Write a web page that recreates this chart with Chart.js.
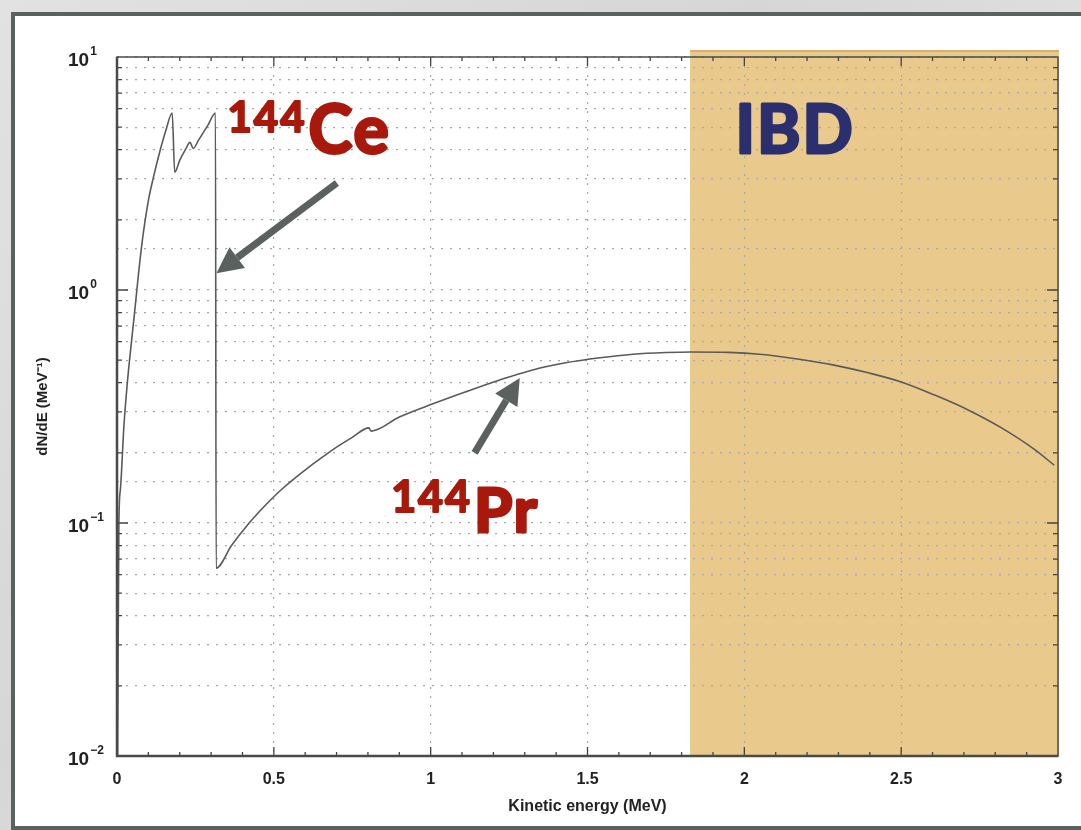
<!DOCTYPE html>
<html>
<head>
<meta charset="utf-8">
<script src="https://cdn.jsdelivr.net/npm/chart.js@4/dist/chart.umd.min.js"></script>
<style>
  html, body { margin: 0; padding: 0; }
  body {
    width: 1081px; height: 830px; overflow: hidden;
    background: linear-gradient(135deg, #e2e2e2 0%, #d6d6d6 40%, #e4e4e4 70%, #d9d9d9 100%);
    position: relative;
  }
  #panel {
    position: absolute; left: 11px; top: 12px; width: 1080px; height: 818px;
    box-sizing: border-box; background: #fff;
    border: 4px solid #5b615f;
  }
  #wrap { position: absolute; left: 0; top: 0; width: 1081px; height: 830px; }
</style>
</head>
<body>
<div id="panel"></div>
<div id="wrap"><canvas id="spectrum"></canvas></div>
<script>
// Ce-144 + Pr-144 beta spectrum (MeV, 1/MeV)
const energy = [
  0.002, 0.006, 0.011, 0.022, 0.033, 0.045, 0.056, 0.067, 0.080, 0.090,
  0.102, 0.115, 0.137, 0.155, 0.176, 0.184, 0.200, 0.218, 0.233, 0.243,
  0.260, 0.290, 0.314, 0.316, 0.365, 0.420, 0.470, 0.520, 0.580, 0.685,
  0.750, 0.803, 0.810, 0.900, 1.005, 1.110, 1.220, 1.325, 1.430, 1.540,
  1.645, 1.750, 1.830, 1.950, 2.050, 2.180, 2.286, 2.395, 2.500, 2.607,
  2.715, 2.820, 2.927, 2.988
];
const dNdE = [
  0.010, 0.100, 0.140, 0.260, 0.400, 0.580, 0.800, 1.120, 1.600, 2.000,
  2.500, 3.000, 3.950, 4.800, 5.750, 3.200, 3.600, 4.000, 4.300, 4.050,
  4.400, 5.100, 5.750, 0.064, 0.080, 0.0995, 0.118, 0.1375, 0.161, 0.205,
  0.233, 0.256, 0.248, 0.285, 0.324, 0.365, 0.411, 0.454, 0.487, 0.512,
  0.530, 0.539, 0.542, 0.540, 0.530, 0.503, 0.476, 0.441, 0.403, 0.354,
  0.305, 0.256, 0.206, 0.177
];

// axis ranges and tick labels
const xRange = [0, 3];
const yRange = [0.01, 10];
const yDecades = [-2, -1, 0, 1];

// IBD threshold band (MeV)
const ibdBand = [1.827, 3.0];

// text labels and arrows, in data units
const labels = [
  { sup: '144', main: 'Ce',  x: 0.352, y: 3.87, color: '#a8190c', size: 66, supSize: 42, rise: 21 },
  { sup: '144', main: 'Pr',  x: 0.874, y: 0.0914, color: '#a8190c', size: 62, supSize: 43, rise: 20 },
  { sup: '',    main: 'IBD', x: 1.972, y: 3.87, color: '#2b2f6d', size: 66, supSize: 0, rise: 0 }
];
const arrows = [
  { from: [0.701, 2.88], to: [0.317, 1.18] },
  { from: [1.140, 0.200], to: [1.284, 0.419] }
];

const points = energy.map((e, i) => ({ x: e, y: dNdE[i] }));
const labelFont = 'Lato, "Open Sans", sans-serif';
const axisFont = '"Liberation Sans", Arial, sans-serif';

//******************************************************************************
//  background band, drawn before the grid
//******************************************************************************
const bandPlugin = {
  id: 'ibdBand',
  beforeDraw(chart) {
    const { ctx, chartArea, scales } = chart;
    const x0 = scales.x.getPixelForValue(ibdBand[0]);
    const x1 = scales.x.getPixelForValue(ibdBand[1]);
    ctx.save();
    ctx.fillStyle = '#e9ca8c';
    ctx.fillRect(x0, chartArea.top - 7, x1 - x0 + 1, chartArea.bottom - chartArea.top + 7);
    ctx.fillStyle = 'rgba(200,160,90,0.6)';
    ctx.fillRect(x0, chartArea.top - 7, x1 - x0 + 1, 2);
    ctx.restore();
  }
};

//******************************************************************************
//  frame, inward ticks, y tick labels, labels and arrows
//******************************************************************************
const decorPlugin = {
  id: 'decor',
  afterDraw(chart) {
    const { ctx, chartArea: a, scales } = chart;
    const xs = scales.x, ys = scales.y;
    ctx.save();

    // minor / major tick marks on all four sides
    ctx.strokeStyle = '#444';
    ctx.lineWidth = 1.3;
    ctx.beginPath();
    for (let i = 1; i < 30; i++) {
      const px = xs.getPixelForValue(i / 10);
      const len = i % 5 === 0 ? 9 : 4;
      ctx.moveTo(px, a.bottom); ctx.lineTo(px, a.bottom - len);
      ctx.moveTo(px, a.top); ctx.lineTo(px, a.top + len);
    }
    for (let d = -2; d < 1; d++) {
      for (let m = 1; m < 10; m++) {
        const v = m * Math.pow(10, d);
        if (m === 1 && d === -2) continue;
        const py = ys.getPixelForValue(v);
        const len = m === 1 ? 11 : 5;
        ctx.moveTo(a.left, py); ctx.lineTo(a.left + len, py);
        ctx.moveTo(a.right, py); ctx.lineTo(a.right - len, py);
      }
    }
    ctx.stroke();

    // frame
    ctx.strokeStyle = '#4a4a4a';
    ctx.lineWidth = 1.5;
    ctx.strokeRect(a.left, a.top, a.right - a.left, a.bottom - a.top);
    ctx.lineWidth = 2.5;
    ctx.beginPath();
    ctx.moveTo(a.left, a.top); ctx.lineTo(a.left, a.bottom); ctx.lineTo(a.right, a.bottom);
    ctx.stroke();

    // y tick labels as 10^n
    ctx.fillStyle = '#222';
    ctx.textBaseline = 'alphabetic';
    ctx.textAlign = 'left';
    for (let n of yDecades) {
      const py = ys.getPixelForValue(Math.pow(10, n));
      const exp = String(n).replace('-', '\u2212');
      ctx.font = 'bold 19px ' + axisFont;
      const bw = ctx.measureText('10').width;
      const left = a.left - 49;
      ctx.fillText('10', left, py + 9);
      ctx.font = 'bold 12px ' + axisFont;
      ctx.fillText(exp, left + bw + 1, py - 2);
    }

    // arrows
    ctx.strokeStyle = '#5b615f';
    ctx.fillStyle = '#5b615f';
    for (let ar of arrows) {
      const x0 = xs.getPixelForValue(ar.from[0]), y0 = ys.getPixelForValue(ar.from[1]);
      const x1 = xs.getPixelForValue(ar.to[0]), y1 = ys.getPixelForValue(ar.to[1]);
      const ang = Math.atan2(y1 - y0, x1 - x0);
      const head = 26, half = 13;
      const bx = x1 - head * Math.cos(ang), by = y1 - head * Math.sin(ang);
      ctx.lineWidth = 7;
      ctx.lineCap = 'butt';
      ctx.beginPath(); ctx.moveTo(x0, y0); ctx.lineTo(bx, by); ctx.stroke();
      ctx.beginPath();
      ctx.moveTo(x1, y1);
      ctx.lineTo(bx + half * Math.sin(ang), by - half * Math.cos(ang));
      ctx.lineTo(bx - half * Math.sin(ang), by + half * Math.cos(ang));
      ctx.closePath(); ctx.fill();
    }

    // big labels, stroked a little to get the heavy look
    ctx.lineJoin = 'round';
    for (let lb of labels) {
      let px = xs.getPixelForValue(lb.x);
      const py = ys.getPixelForValue(lb.y);
      ctx.fillStyle = lb.color;
      ctx.strokeStyle = lb.color;
      ctx.textAlign = 'left';
      ctx.letterSpacing = '2px';
      if (lb.sup) {
        ctx.font = 'bold ' + lb.supSize + 'px ' + labelFont;
        ctx.lineWidth = 2;
        ctx.fillText(lb.sup, px, py - lb.rise);
        ctx.strokeText(lb.sup, px, py - lb.rise);
        px += ctx.measureText(lb.sup).width + 2;
      }
      ctx.font = 'bold ' + lb.size + 'px ' + labelFont;
      ctx.lineWidth = 3;
      ctx.fillText(lb.main, px, py);
      ctx.strokeText(lb.main, px, py);
    }
    ctx.restore();
  }
};

new Chart(document.getElementById('spectrum').getContext('2d'), {
  type: 'line',
  data: {
    datasets: [{
      data: points,
      borderColor: '#5a5a5a',
      borderWidth: 1.6,
      pointRadius: 0,
      cubicInterpolationMode: 'monotone',
      fill: false
    }]
  },
  options: {
    responsive: true,
    maintainAspectRatio: false,
    animation: false,
    parsing: false,
    layout: { padding: { left: 0, top: 57, right: 23, bottom: 10 } },
    plugins: { legend: { display: false }, tooltip: { enabled: false } },
    scales: {
      x: {
        type: 'linear',
        min: xRange[0],
        max: xRange[1],
        afterFit(scale) { scale.height = 64; },
        border: { display: false, dash: [2, 7] },
        grid: {
          drawTicks: false,
          lineWidth: 1.2,
          color(ctx) {
            const v = Math.round(ctx.tick.value * 10);
            return (v % 5 === 0 && v > 0 && v < 30) ? '#a8a8a8' : 'rgba(0,0,0,0)';
          }
        },
        ticks: {
          stepSize: 0.1,
          autoSkip: false,
          maxRotation: 0,
          padding: 14,
          color: '#222',
          font: { family: axisFont, size: 16, weight: 'bold' },
          callback(value) {
            const v = Math.round(value * 10);
            return v % 5 === 0 ? String(v / 10) : '';
          }
        },
        title: {
          display: true,
          text: 'Kinetic energy (MeV)',
          color: '#222',
          font: { family: axisFont, size: 16, weight: 'bold' },
          padding: { top: 0, bottom: 4 }
        }
      },
      y: {
        type: 'logarithmic',
        min: yRange[0],
        max: yRange[1],
        afterFit(scale) { scale.width = 117; },
        border: { display: false, dash: [2, 7] },
        grid: {
          drawTicks: false,
          lineWidth: 1.2,
          color: '#a8a8a8'
        },
        ticks: {
          autoSkip: false,
          callback() { return ''; }
        },
        title: {
          display: true,
          text: 'dN/dE (MeV\u207B\u00B9)',
          color: '#222',
          font: { family: axisFont, size: 15, weight: 'bold' },
          padding: { top: 34, bottom: 0 }
        }
      }
    }
  },
  plugins: [bandPlugin, decorPlugin]
});
</script>
</body>
</html>
